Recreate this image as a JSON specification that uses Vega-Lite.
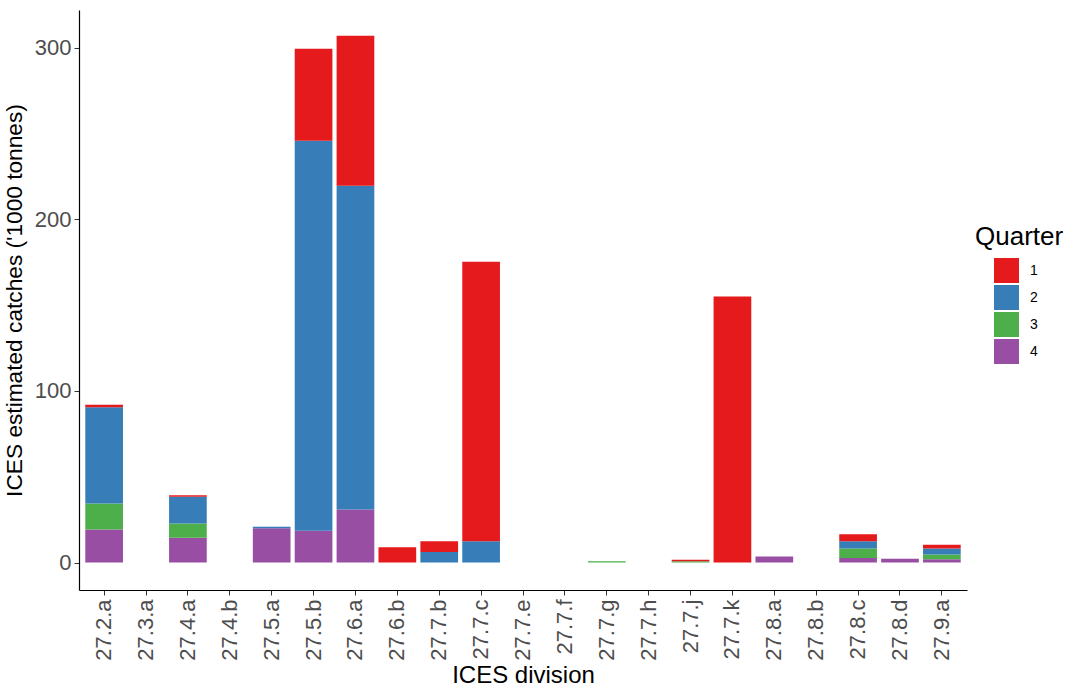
{
  "$schema": "https://vega.github.io/schema/vega-lite/v6.json",
  "width": 888,
  "height": 580,
  "autosize": "none",
  "padding": {"left": 79, "top": 10, "right": 103, "bottom": 101},
  "background": "white",
  "config": {
    "view": {"stroke": null},
    "font": "Liberation Sans"
  },
  "data": {
    "values": [
      {"division": "27.2.a", "Quarter": "4", "catch": 19.2},
      {"division": "27.2.a", "Quarter": "3", "catch": 15.2},
      {"division": "27.2.a", "Quarter": "2", "catch": 56.1},
      {"division": "27.2.a", "Quarter": "1", "catch": 1.4},
      {"division": "27.4.a", "Quarter": "4", "catch": 14.4},
      {"division": "27.4.a", "Quarter": "3", "catch": 8.3},
      {"division": "27.4.a", "Quarter": "2", "catch": 15.7},
      {"division": "27.4.a", "Quarter": "1", "catch": 0.8},
      {"division": "27.5.a", "Quarter": "4", "catch": 20.0},
      {"division": "27.5.a", "Quarter": "2", "catch": 0.8},
      {"division": "27.5.b", "Quarter": "4", "catch": 18.5},
      {"division": "27.5.b", "Quarter": "2", "catch": 227.3},
      {"division": "27.5.b", "Quarter": "1", "catch": 53.6},
      {"division": "27.6.a", "Quarter": "4", "catch": 30.9},
      {"division": "27.6.a", "Quarter": "2", "catch": 188.7},
      {"division": "27.6.a", "Quarter": "1", "catch": 87.4},
      {"division": "27.6.b", "Quarter": "1", "catch": 8.9},
      {"division": "27.7.b", "Quarter": "2", "catch": 6.2},
      {"division": "27.7.b", "Quarter": "1", "catch": 6.2},
      {"division": "27.7.c", "Quarter": "2", "catch": 12.4},
      {"division": "27.7.c", "Quarter": "1", "catch": 162.9},
      {"division": "27.7.g", "Quarter": "3", "catch": 0.7},
      {"division": "27.7.j", "Quarter": "3", "catch": 0.7},
      {"division": "27.7.j", "Quarter": "1", "catch": 0.9},
      {"division": "27.7.k", "Quarter": "1", "catch": 155.0},
      {"division": "27.8.a", "Quarter": "4", "catch": 3.5},
      {"division": "27.8.c", "Quarter": "4", "catch": 2.7},
      {"division": "27.8.c", "Quarter": "3", "catch": 5.5},
      {"division": "27.8.c", "Quarter": "2", "catch": 4.2},
      {"division": "27.8.c", "Quarter": "1", "catch": 4.1},
      {"division": "27.8.d", "Quarter": "4", "catch": 2.2},
      {"division": "27.9.a", "Quarter": "4", "catch": 1.9},
      {"division": "27.9.a", "Quarter": "3", "catch": 2.8},
      {"division": "27.9.a", "Quarter": "2", "catch": 3.5},
      {"division": "27.9.a", "Quarter": "1", "catch": 2.1}
    ]
  },
  "mark": {"type": "bar"},
  "encoding": {
    "x": {
      "field": "division",
      "type": "nominal",
      "scale": {
        "domain": ["27.2.a", "27.3.a", "27.4.a", "27.4.b", "27.5.a", "27.5.b", "27.6.a", "27.6.b", "27.7.b", "27.7.c", "27.7.e", "27.7.f", "27.7.g", "27.7.h", "27.7.j", "27.7.k", "27.8.a", "27.8.b", "27.8.c", "27.8.d", "27.9.a"],
        "paddingInner": 0.1,
        "paddingOuter": 0.15
      },
      "axis": {
        "title": "ICES division",
        "titleFontSize": 24,
        "titleFontWeight": "normal",
        "titleColor": "black",
        "titlePadding": 3,
        "labelAngle": -90,
        "labelFontSize": 22,
        "labelColor": "#4D4D4D",
        "labelPadding": 4,
        "tickColor": "#333333",
        "tickSize": 5,
        "domainColor": "black",
        "domainWidth": 1.2,
        "grid": false
      }
    },
    "y": {
      "field": "catch",
      "type": "quantitative",
      "aggregate": "sum",
      "stack": "zero",
      "scale": {"domain": [-16, 322], "nice": false, "zero": false},
      "axis": {
        "title": "ICES estimated catches ('1000 tonnes)",
        "titleFontSize": 22.7,
        "titleFontWeight": "normal",
        "titleColor": "black",
        "titlePadding": 8,
        "values": [0, 100, 200, 300],
        "labelFontSize": 22,
        "labelColor": "#4D4D4D",
        "labelPadding": 3,
        "tickColor": "#333333",
        "tickSize": 5,
        "domainColor": "black",
        "domainWidth": 1.2,
        "grid": false
      }
    },
    "color": {
      "field": "Quarter",
      "type": "nominal",
      "scale": {
        "domain": ["1", "2", "3", "4"],
        "range": ["#E41A1C", "#377EB8", "#4DAF4A", "#984EA3"]
      },
      "legend": {
        "title": "Quarter",
        "titleFontSize": 26,
        "titleFontWeight": "normal",
        "titleColor": "black",
        "titlePadding": 8,
        "orient": "none",
        "legendX": 896,
        "legendY": 214,
        "symbolType": "square",
        "symbolSize": 625,
        "symbolStrokeWidth": 0,
        "symbolOpacity": 1,
        "symbolOffset": 19,
        "labelFontSize": 14,
        "labelColor": "black",
        "labelOffset": 11,
        "rowPadding": 2,
        "offset": 0
      }
    },
    "order": {"field": "Quarter", "sort": "descending"}
  }
}
